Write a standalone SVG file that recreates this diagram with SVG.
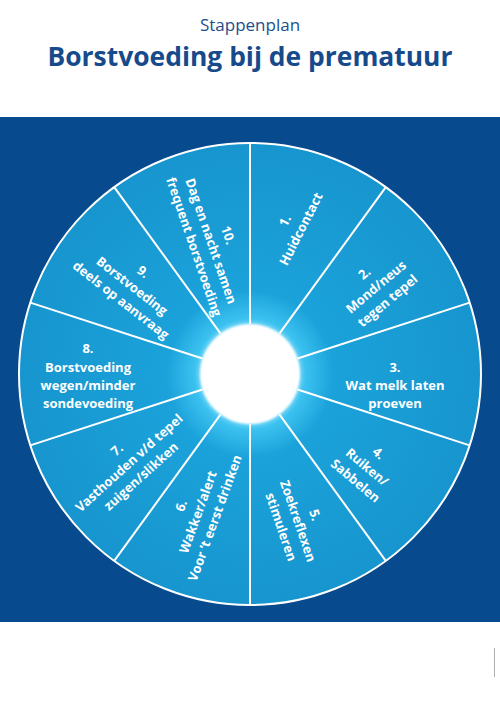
<svg xmlns="http://www.w3.org/2000/svg" width="500" height="714" viewBox="0 0 500 714">
<defs>
<radialGradient id="wheelGrad" cx="250" cy="374" r="231" gradientUnits="userSpaceOnUse">
<stop offset="0" stop-color="#ffffff"/>
<stop offset="0.2" stop-color="#8fe0fa"/>
<stop offset="0.24" stop-color="#3cc2f0"/>
<stop offset="0.36" stop-color="#1ba2da"/>
<stop offset="1" stop-color="#1795ce"/>
</radialGradient>
<filter id="soft" x="-20%" y="-20%" width="140%" height="140%">
<feGaussianBlur stdDeviation="0.8"/>
</filter>
</defs>
<style>
.title1{font-family:"Open Sans","Noto Sans","Liberation Sans",sans-serif;font-size:17px;fill:#1d4f8d;text-anchor:middle}
.title2{font-family:"Open Sans","Noto Sans","Liberation Sans",sans-serif;font-size:27px;font-weight:bold;fill:#174a8b;text-anchor:middle}
.lbl{font-family:"Open Sans","Noto Sans","Liberation Sans",sans-serif;font-size:13px;font-weight:bold;fill:#ffffff;text-anchor:middle}
.div{stroke:#ffffff;stroke-width:2;fill:none}
</style>
<rect x="0" y="0" width="500" height="714" fill="#ffffff"/>
<g id="title">
<text class="title1" x="250" y="31">Stappenplan</text>
<text class="title2" x="250" y="66" textLength="405" lengthAdjust="spacingAndGlyphs">Borstvoeding bij de prematuur</text>
</g>
<rect id="background" x="0" y="117" width="500" height="505" fill="#074a8e"/>
<g id="wheel">
<circle cx="250" cy="374" r="231" fill="url(#wheelGrad)" stroke="#ffffff" stroke-width="2"/>
<circle cx="250" cy="374" r="50" fill="#ffffff" filter="url(#soft)"/>
</g>
<g id="connectors">
<line class="div" x1="250" y1="324" x2="250" y2="143"/>
<line class="div" x1="279.4" y1="333.55" x2="385.8" y2="187.1"/>
<line class="div" x1="297.55" y1="358.55" x2="469.7" y2="302.6"/>
<line class="div" x1="297.55" y1="389.45" x2="469.7" y2="445.4"/>
<line class="div" x1="279.4" y1="414.45" x2="385.8" y2="560.9"/>
<line class="div" x1="250" y1="424" x2="250" y2="605"/>
<line class="div" x1="220.6" y1="414.45" x2="114.2" y2="560.9"/>
<line class="div" x1="202.45" y1="389.45" x2="30.3" y2="445.4"/>
<line class="div" x1="202.45" y1="358.55" x2="30.3" y2="302.6"/>
<line class="div" x1="220.6" y1="333.55" x2="114.2" y2="187.1"/>
</g>
<g id="step1" transform="translate(301,229) rotate(-63)">
<text class="lbl" x="0" y="-13.5">1.</text>
<text class="lbl" x="0" y="4.5">Huidcontact</text>
</g>
<g id="step2" transform="translate(376,287) rotate(-40)">
<text class="lbl" x="0" y="-13.5">2.</text>
<text class="lbl" x="0" y="4.5">Mond/neus</text>
<text class="lbl" x="0" y="22.5">tegen tepel</text>
</g>
<g id="step3" transform="translate(395,385)">
<text class="lbl" x="0" y="-13.5">3.</text>
<text class="lbl" x="0" y="4.5">Wat melk laten</text>
<text class="lbl" x="0" y="22.5">proeven</text>
</g>
<g id="step4" transform="translate(367,467) rotate(40)">
<text class="lbl" x="0" y="-13.5">4.</text>
<text class="lbl" x="0" y="4.5">Ruiken/</text>
<text class="lbl" x="0" y="22.5">Sabbelen</text>
</g>
<g id="step5" transform="translate(298,521) rotate(71)">
<text class="lbl" x="0" y="-13.5">5.</text>
<text class="lbl" x="0" y="4.5">Zoekreflexen</text>
<text class="lbl" x="0" y="22.5">stimuleren</text>
</g>
<g id="step6" transform="translate(198,512) rotate(-70)">
<text class="lbl" x="0" y="-13.5">6.</text>
<text class="lbl" x="0" y="4.5">Wakker/alert</text>
<text class="lbl" x="0" y="22.5">Voor ’t eerst drinken</text>
</g>
<g id="step7" transform="translate(129,463) rotate(-42)">
<text class="lbl" x="0" y="-13.5">7.</text>
<text class="lbl" x="0" y="4.5">Vasthouden v/d tepel</text>
<text class="lbl" x="0" y="22.5">zuigen/slikken</text>
</g>
<g id="step8" transform="translate(88,367)">
<text class="lbl" x="0" y="-14.5">8.</text>
<text class="lbl" x="0" y="4.5">Borstvoeding</text>
<text class="lbl" x="0" y="22.5">wegen/minder</text>
<text class="lbl" x="0" y="40.5">sondevoeding</text>
</g>
<g id="step9" transform="translate(132,286) rotate(38)">
<text class="lbl" x="0" y="-13.5">9.</text>
<text class="lbl" x="0" y="4.5">Borstvoeding</text>
<text class="lbl" x="0" y="22.5">deels op aanvraag</text>
</g>
<g id="step10" transform="translate(211,241) rotate(71)">
<text class="lbl" x="0" y="-13.5">10.</text>
<text class="lbl" x="0" y="4.5">Dag en nacht samen</text>
<text class="lbl" x="0" y="22.5">frequent borstvoeding</text>
</g>
<line id="mark" x1="494.5" y1="648" x2="494.5" y2="677" stroke="#b0b0b0" stroke-width="1"/>
</svg>
